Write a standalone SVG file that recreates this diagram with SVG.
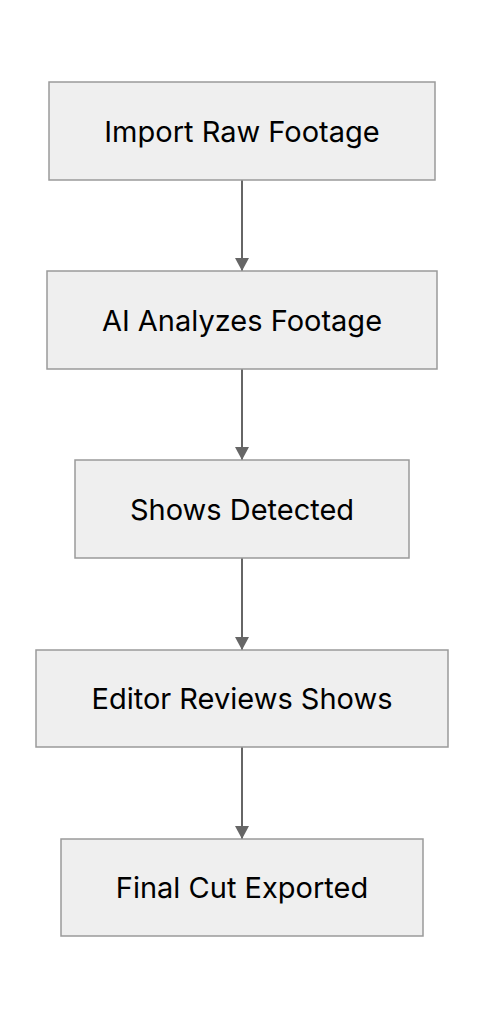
<svg xmlns="http://www.w3.org/2000/svg" width="484" height="1020" viewBox="0 0 484 1020">
<style>
.node rect{fill:#efefef;stroke:#9a9a9a;stroke-width:1.5}
.node text{font-family:Inter,"Noto Sans",sans-serif;font-size:29px;fill:#000;text-anchor:middle;dominant-baseline:central}
.edge{stroke:#666;stroke-width:2;fill:none}
</style>
<defs>
<marker id="arr" viewBox="0 0 13 14" refX="13" refY="7" markerWidth="13" markerHeight="14" markerUnits="userSpaceOnUse" orient="auto">
<path d="M0,0 L13,7 L0,14 Z" fill="#666"/>
</marker>
</defs>
<rect width="484" height="1020" fill="#fff"/>
<g id="connectors">
<line class="edge" x1="242" y1="180" x2="242" y2="271" marker-end="url(#arr)"/>
<line class="edge" x1="242" y1="369" x2="242" y2="460" marker-end="url(#arr)"/>
<line class="edge" x1="242" y1="558" x2="242" y2="650" marker-end="url(#arr)"/>
<line class="edge" x1="242" y1="747" x2="242" y2="839" marker-end="url(#arr)"/>
</g>
<g id="n1" class="node"><rect x="49" y="82" width="386" height="98"/><text x="242" y="131">Import Raw Footage</text></g>
<g id="n2" class="node"><rect x="47" y="271" width="390" height="98"/><text x="242" y="320">AI Analyzes Footage</text></g>
<g id="n3" class="node"><rect x="75" y="460" width="334" height="98"/><text x="242" y="509">Shows Detected</text></g>
<g id="n4" class="node"><rect x="36" y="650" width="412" height="97"/><text x="242" y="698">Editor Reviews Shows</text></g>
<g id="n5" class="node"><rect x="61" y="839" width="362" height="97"/><text x="242" y="887">Final Cut Exported</text></g>
</svg>
